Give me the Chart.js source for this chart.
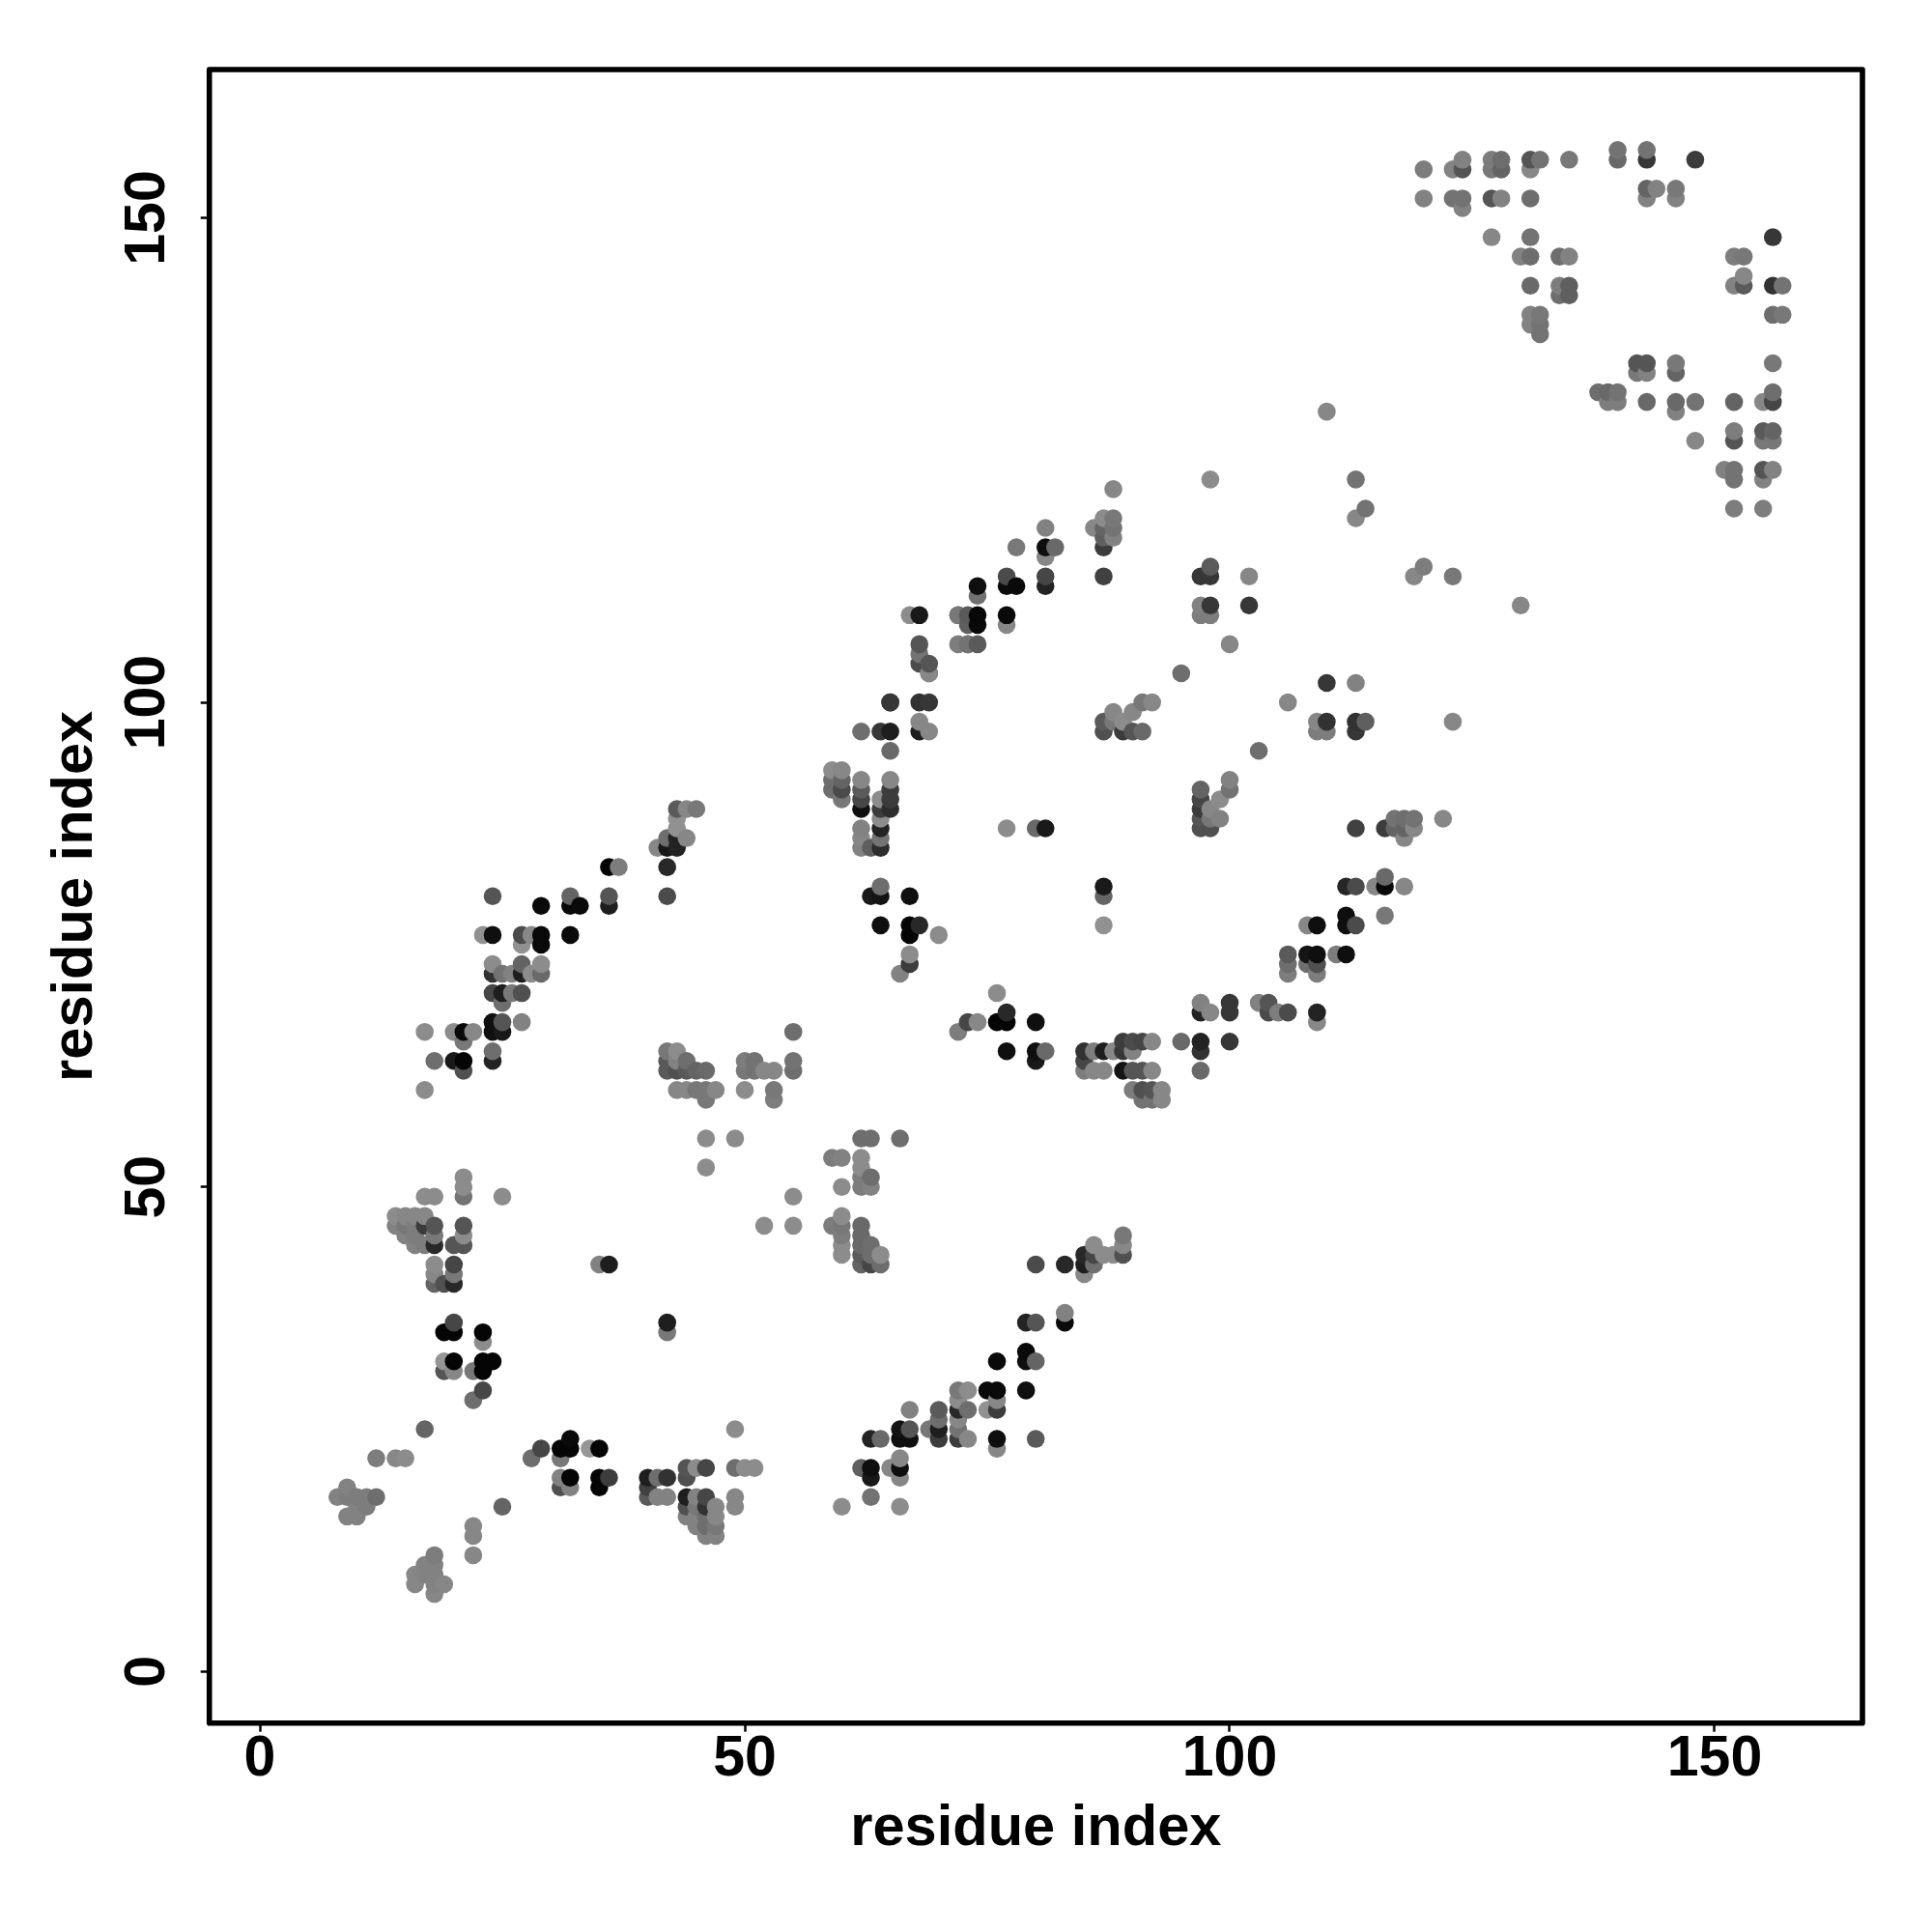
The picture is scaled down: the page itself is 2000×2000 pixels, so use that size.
<!DOCTYPE html>
<html><head><meta charset="utf-8">
<style>html,body{margin:0;padding:0;background:#fff}canvas{display:block}</style>
<script src="https://cdn.jsdelivr.net/npm/chart.js@4"></script>
</head><body><canvas id="c" width="2000" height="2000"></canvas>
<script>
const axisTicks = [0, 50, 100, 150];
const axisLabel = "residue index";

// lower-left block
const aX = [46,46,49,21,21,21,17,18,25,55,52,55,14,15,16,17,14,15,16,17,18,21,15,16,18,21,16,17,18,20,21,18,20,18,20,18,19,20,35,36,42,42];
const aY = [52,55,55,51,50,49,49,49,49,49,46,46,47,47,47,47,46,46,46,46,46,46,45,45,45,45,44,44,44,44,44,42,42,41,41,40,40,40,42,42,36,35];
const aG = [140,140,140,140,140,115,140,140,140,140,140,140,140,135,135,135,130,120,125,60,85,85,130,125,120,140,130,125,40,85,85,140,70,135,120,100,80,40,130,30,30,120];

const bX = [20,19,20,23,23,19,20,23,24,19,20,22,23,23,22,17,12,14,15,28,29,31,32,32,31,34,35,31,32,31,32,35,36,35];
const bY = [36,35,35,35,34,32,32,32,32,31,31,31,31,29,28,25,22,22,22,22,23,23,23,24,22,23,23,20,20,19,19,20,20,19];
const bG = [70,5,5,5,140,150,5,5,5,85,135,120,5,70,110,100,125,135,140,110,70,5,5,10,120,150,5,130,5,80,130,5,60,5];

const cX = [40,41,42,40,40,41,42,44,45,46,44,49,50,51,49,44,44,44,45,46,46,45,45,45,46,46,46,47,47,47,47,49,49];
const cY = [20,20,20,19,18,18,18,21,21,21,20,21,21,21,25,18,17,16,18,18,17,17,16,15,16,15,14,17,16,15,14,18,17];
const cG = [30,110,50,65,90,130,130,85,140,70,80,110,140,140,140,30,80,130,130,70,50,120,130,130,110,110,130,135,135,120,130,135,135];

const dX = [9,8,9,10,11,12,10,11,9,10,22,22,22,25,18,17,18,16,17,18,16,18,19,18];
const dY = [19,18,18,18,18,18,17,17,16,16,15,14,12,17,12,11,11,10,10,10,9,9,9,8];
const dG = [130,130,125,125,125,110,130,125,130,130,135,135,135,100,125,130,130,135,130,130,135,130,135,135];

// second lower block
const eX = [62,63,66,59,60,62,62,63,62,60,62,63,59,60,60,60,60,60];
const eY = [55,55,55,53,53,53,52,51,51,50,50,50,46,47,46,45,44,43];
const eG = [110,110,110,125,130,140,140,110,125,140,125,130,125,140,120,125,140,140];

const fX = [62,62,62,62,62,63,63,63,64,64,80,83,85,85,85,86,86,86,87,88,89,89,89];
const fY = [46,45,44,43,42,44,43,42,43,42,42,42,43,42,41,44,43,42,43,43,45,44,43];
const fG = [105,105,105,90,100,110,110,70,140,110,75,40,40,30,135,140,70,110,140,140,120,135,80];

const gX = [79,80,83,83,76,79,79,80,72,73,75,76,79,72,73,72,75,76,76];
const gY = [36,36,37,36,32,33,32,32,29,29,29,29,29,28,27,27,27,28,27];
const gG = [35,85,130,10,10,10,15,100,120,140,10,10,15,140,110,40,145,135,60];

const hX = [70,70,70,70,69,67,66,67,66,67,63,64,72,72,72,73,76,76,80,66,66,65,66,62,63,63,63,60,66];
const hY = [27,26,25,24,25,27,25,25,24,24,24,24,26,25,24,24,24,23,24,22,21,21,20,21,21,20,18,17,17];
const hG = [90,110,30,60,120,130,20,85,15,15,35,105,135,115,60,135,15,135,90,135,15,135,135,95,15,25,115,140,140];

// diagonal band, upper left
const iX = [17,20,21,22,21,24,25,24,25,27,18,20,21,21,24,24,17];
const iY = [66,66,66,66,65,67,67,66,66,67,63,63,63,62,64,63,60];
const iG = [140,140,10,135,120,15,85,15,25,130,110,25,5,80,110,35,140];

const jX = [24,24,25,26,27,27,28,29,29,24,25,26,27,25,23,24,27,28,29,29,27,32];
const jY = [73,72,72,72,73,72,72,73,72,70,70,70,70,69,76,76,76,76,76,75,75,76];
const jG = [140,50,115,130,100,30,140,140,105,70,30,120,80,110,145,15,75,135,10,10,145,10];

const kX = [29,32,33,32,36,36,24,42,36,37,42,41,42,42,43,43,44,43,43,43,44,45];
const kY = [79,79,79,80,80,79,80,80,83,83,83,85,86,85,85,86,86,87,88,89,89,89];
const kG = [10,10,10,100,85,30,85,75,5,125,40,135,110,25,35,35,135,145,145,90,135,120];

// centre-left patch
const lX = [55,55,55,42,43,42,42,43,43,44,44,45,46,43,44,45,46,47,46];
const lY = [66,63,62,64,64,63,62,63,62,63,62,62,62,60,60,60,60,60,59];
const lG = [110,115,110,120,140,90,90,130,80,110,90,100,105,135,135,120,120,135,120];

const mX = [50,51,50,51,52,53,50,53,53];
const mY = [63,63,62,62,62,62,60,60,59];
const mG = [125,115,120,115,135,135,140,120,125];

// centre block
const nX = [65,68,69,62,64,65,68,68,69,65,59,60,59,60,59,60,60];
const nY = [100,100,100,97,97,97,98,97,97,95,93,93,92,92,91,91,90];
const nG = [55,50,55,110,55,30,135,30,135,105,140,135,110,100,110,75,120];

const oX = [62,62,62,62,65,65,65,65,64,64,64,64,64,64,63,62,62,62];
const oY = [92,91,90,89,92,91,90,89,90,89,88,87,86,85,85,87,86,85];
const oG = [135,90,70,15,135,60,60,45,140,60,140,35,115,45,95,130,135,130];

const pX = [77,80,81,87,87,87,64,63,64,67,64,67,68,67,70,67,67,66];
const pY = [87,87,87,81,80,77,81,80,80,80,77,77,77,76,76,74,73,72];
const pG = [140,105,25,25,100,145,110,25,20,15,15,5,40,5,140,140,60,130];

const qX = [76,77,76,77,80,73,74,72,77,80,81,80];
const qY = [70,68,67,67,67,67,67,66,64,64,64,63];
const qG = [140,40,5,5,15,70,135,125,15,15,105,25];

const rX = [89,90,91,92,95,97,100,85,86,87,88,89,90,97,85,85,86,87,89,90,91,92,97,90,91,92,93,91,92,93];
const rY = [65,65,65,65,65,65,65,64,64,64,64,64,64,64,63,62,62,62,62,62,62,62,62,60,60,60,60,59,59,59];
const rG = [60,75,70,135,105,35,55,50,125,30,135,55,130,50,70,125,135,135,20,85,85,135,105,125,80,85,135,115,115,135];

const sX = [97,98,97,100,100,103,104,104,105,106,106,106,106,108,108,109,109,109,108,109,111,112,112,112,113,109,109];
const sY = [69,68,68,69,68,69,69,68,68,68,74,73,72,74,73,74,73,72,77,77,74,74,78,77,77,68,67];
const sG = [130,135,35,55,55,130,85,75,125,75,90,110,125,20,110,15,80,125,135,15,125,15,15,15,75,35,135];

const tX = [97,97,97,97,97,98,98,98,99,99,100,100,87,88,87,88,89,89,90,90,91,92,91,106,103];
const tY = [91,90,89,88,87,89,88,87,90,88,92,91,98,99,97,98,98,97,99,97,100,100,97,100,95];
const tG = [100,70,60,85,80,135,120,80,140,130,130,115,90,135,80,120,140,60,135,85,120,135,105,135,110];

// upper diagonal band
const uX = [88,98,113,114,113,81,78,81,82,81,77,81,77,78,81,74,74,74,74,77,77,73,73,74,73,72,72,67,68,72,73,68,68,68,69,69,69,65,95];
const uY = [122,123,123,120,119,118,116,116,116,115,113,113,112,112,112,112,111,109,108,109,108,109,108,106,106,109,106,109,109,109,106,106,105,104,104,103,103,100,103];
const uG = [135,140,115,115,135,130,120,15,105,135,75,70,10,10,35,15,112,8,10,10,135,90,95,90,115,120,125,140,25,120,115,85,115,75,85,135,135,55,110];

const vX = [86,87,88,87,88,87,88,87,87,98,97,98,102,97,98,102,97,98,100,120,119,123,110,113,109,110,113,114,109,110,113,123];
const vY = [118,119,119,118,118,117,117,116,113,114,113,113,113,110,110,110,109,109,106,114,113,113,102,102,98,98,98,98,97,97,97,98];
const vG = [135,140,120,100,115,95,130,60,65,90,55,55,135,130,55,55,125,125,135,125,135,120,55,130,135,50,50,95,125,125,55,135];

const wX = [113,116,117,118,119,117,118,119,118,122,112,113,115,116,116,118,116,110,130];
const wY = [87,87,88,88,88,87,87,87,86,88,81,81,81,82,81,81,78,130,110];
const wG = [65,60,115,110,115,100,100,135,135,135,38,75,135,105,10,135,120,135,135];

// top-right block
const xA = [120,120,123,124,124,123,124,124,127,128,127,128,127,128,131,132,131,131,135,140,140,143,143,148,143,144,143,146,146];
const yA = [155,152,155,156,155,152,152,151,156,156,155,155,152,152,156,156,155,152,156,157,156,157,156,156,153,153,152,153,152];
const gA = [125,130,130,130,85,115,115,130,125,110,120,100,85,130,85,115,135,110,120,115,105,115,55,60,100,130,130,120,130];

const xB = [127,131,130,131,134,135,131,134,135,134,135,131,132,131,132,132,152,153,153,152,153,156,156,157,156,157];
const yB = [148,148,146,146,146,146,143,143,143,142,142,140,140,139,139,138,146,146,144,143,143,148,143,143,140,140];
const gB = [135,115,130,110,110,130,105,125,95,110,95,130,120,130,115,115,125,120,135,130,90,55,50,115,110,120];

const xC = [142,143,146,156,142,143,146,138,139,140,156,139,140,143,146,148,152,155,156,146];
const yC = [135,135,135,135,134,134,134,132,132,132,132,131,131,131,131,131,131,131,131,130];
const gC = [85,85,120,120,120,130,100,110,105,115,110,125,125,105,105,115,100,135,70,130];

const xD = [152,155,156,148,152,155,156,151,152,155,156,152,155,152,155];
const yD = [128,128,128,127,127,127,127,124,124,124,124,123,123,120,120];
const gD = [125,90,100,135,85,120,120,130,115,85,130,115,130,125,125];

const allX = [].concat(aX,bX,cX,dX,eX,fX,gX,hX,iX,jX,kX,lX,mX,nX,oX,pX,qX,rX,sX,tX,uX,vX,wX,xA,xB,xC,xD);
const allY = [].concat(aY,bY,cY,dY,eY,fY,gY,hY,iY,jY,kY,lY,mY,nY,oY,pY,qY,rY,sY,tY,uY,vY,wY,yA,yB,yC,yD);
const allG = [].concat(aG,bG,cG,dG,eG,fG,gG,hG,iG,jG,kG,lG,mG,nG,oG,pG,qG,rG,sG,tG,uG,vG,wG,gA,gB,gC,gD);

// painted in residue order, so later residues sit on top
const order = allX.map((_, i) => i).sort((p, q) => allX[p] - allX[q] || allY[p] - allY[q]);
const points = order.map(i => ({x: allX[i], y: allY[i]}));
const colours = order.map(i => `rgb(${allG[i]},${allG[i]},${allG[i]})`);

const FAMILY = '"Liberation Sans", Arial, sans-serif';
const box = {
  id: 'box',
  afterDatasetsDraw(chart) {
    const {ctx, chartArea: a} = chart;
    ctx.save();
    ctx.strokeStyle = '#000'; ctx.lineWidth = 5.6; ctx.lineJoin = 'round';
    ctx.strokeRect(a.left, a.top, a.right - a.left, a.bottom - a.top);
    ctx.restore();
  }
};
const setTicks = s => { s.ticks = axisTicks.map(v => ({value: v})); };
const tickStyle = {display: true, drawOnChartArea: false, drawTicks: true, tickLength: 9, tickWidth: 2.5, tickColor: '#000', color: '#000'};

new Chart(document.getElementById('c'), {
  type: 'scatter',
  data: {datasets: [{
    data: points,
    pointRadius: 9.3, pointHoverRadius: 9.3, pointBorderWidth: 0,
    pointBackgroundColor: colours, showLine: false
  }]},
  options: {
    responsive: false, animation: false, devicePixelRatio: 1,
    layout: {padding: {top: 72, right: 72, left: 0, bottom: 0}},
    plugins: {legend: {display: false}, tooltip: {enabled: false}},
    scales: {
      x: {
        type: 'linear', min: -5.21, max: 165.24,
        afterBuildTicks: setTicks,
        afterFit: s => { s.height = 216.3; },
        border: {display: false}, grid: tickStyle,
        ticks: {color: '#000', font: {family: FAMILY, weight: 'bold', size: 59}, maxRotation: 0, minRotation: 0, padding: -6, autoSkip: false},
        title: {display: true, text: axisLabel, color: '#000', font: {family: FAMILY, weight: 'bold', size: 59.6}, padding: {top: 0, bottom: 71}}
      },
      y: {
        type: 'linear', min: -5.32, max: 165.3,
        afterBuildTicks: setTicks,
        afterFit: s => { s.width = 216.7; },
        border: {display: false}, grid: tickStyle,
        ticks: {color: '#000', font: {family: FAMILY, weight: 'bold', size: 59}, minRotation: 90, maxRotation: 90, crossAlign: 'center', padding: 4.5, autoSkip: false},
        title: {display: true, text: axisLabel, color: '#000', font: {family: FAMILY, weight: 'bold', size: 59.6}, padding: {top: 43, bottom: 0}}
      }
    }
  },
  plugins: [box]
});
</script></body></html>
